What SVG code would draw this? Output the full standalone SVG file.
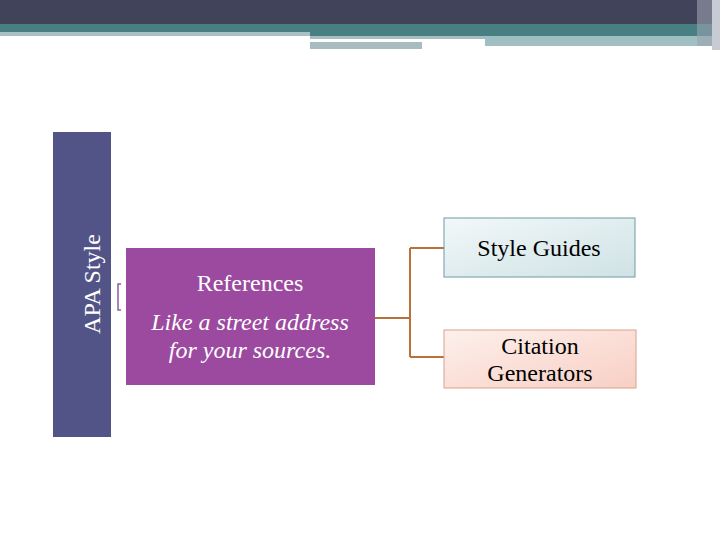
<svg xmlns="http://www.w3.org/2000/svg" width="720" height="540" viewBox="0 0 720 540">
<style>
.c{stroke:#b8713a;stroke-width:2;fill:none}
.t{font-family:"Liberation Serif",serif;font-size:24px;text-anchor:middle}
</style>
<defs>
<linearGradient id="g1" x1="0" y1="0" x2="1" y2="1"><stop offset="0" stop-color="#f2f8f9"/><stop offset="1" stop-color="#cfe2e5"/></linearGradient>
<linearGradient id="g2" x1="0" y1="0" x2="1" y2="1"><stop offset="0" stop-color="#fdf0ec"/><stop offset="1" stop-color="#f8cfc4"/></linearGradient>
</defs>
<rect width="720" height="540" fill="#fff"/>
<g id="header">
<rect x="0" y="0" width="720" height="24" fill="#41435a"/>
<rect x="0" y="24" width="720" height="8" fill="#477f83"/>
<rect x="0" y="32" width="310" height="4" fill="#a7c1c4"/>
<rect x="310" y="32" width="410" height="4" fill="#477f83"/>
<rect x="310" y="36" width="175" height="3" fill="#a7bcbe"/>
<rect x="310" y="42" width="112" height="7" fill="#a7bcbe"/>
<rect x="485" y="36" width="230" height="10" fill="#a0bfc2"/>
<rect x="697" y="0" width="23" height="46" fill="#9aa3b0" opacity="0.6"/>
<rect x="712" y="0" width="8" height="50" fill="#c7cbd3"/>
</g>
<g id="apa">
<rect x="53" y="132" width="58" height="305" fill="#525487"/>
<text class="t" transform="translate(100,284) rotate(-90)" fill="#fff" font-size="36">APA Style</text>
</g>
<g id="connectors">
<path class="c" d="M375,318 H410 M410,248 V357 M410,248 H444 M410,357 H444"/>
<path d="M121,284 L118,284 L118,310 L121,310" stroke="#8a5e9a" stroke-width="1.5" fill="none"/>
</g>
<g id="references">
<rect x="126" y="248" width="249" height="137" fill="#9b4a9f"/>
<text class="t" x="250" y="291" fill="#fff">References</text>
<text class="t" x="250" y="330" fill="#fff" font-style="italic">Like a street address</text>
<text class="t" x="250" y="358" fill="#fff" font-style="italic">for your sources.</text>
</g>
<g id="style-guides">
<rect x="444" y="218" width="191" height="59" fill="url(#g1)" stroke="#6e9aa8"/>
<text class="t" x="539" y="256" fill="#000">Style Guides</text>
</g>
<g id="citation">
<rect x="444" y="330" width="192" height="58" fill="url(#g2)" stroke="#d9a28e"/>
<text class="t" x="540" y="354" fill="#000">Citation</text>
<text class="t" x="540" y="381" fill="#000">Generators</text>
</g>
</svg>
